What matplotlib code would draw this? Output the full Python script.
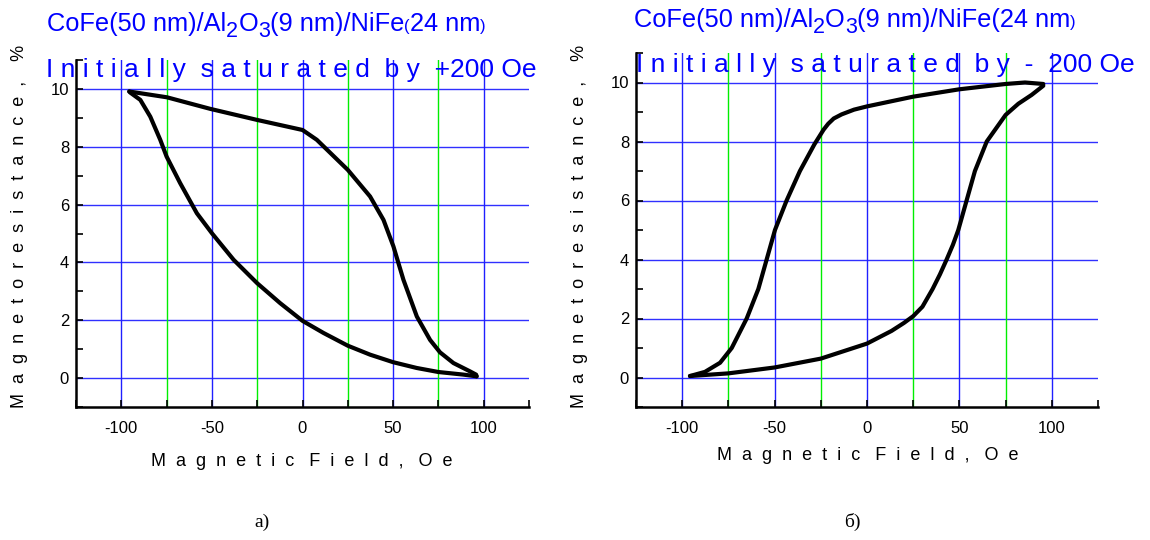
import matplotlib
matplotlib.use("Agg")
import matplotlib.pyplot as plt
import numpy as np

plt.rcParams['font.family'] = ['Liberation Sans', 'DejaVu Sans']

# panel a) : initially saturated by +200 Oe
a_up_x = [-95.6, -74.8, -50.9, -25.2, 0.0, 7.9, 25.0, 37.3, 44.7, 50.2, 55.7, 63.1, 70.4, 75.9, 83.3, 92.5, 95.8, 96.1]
a_up_y = [9.91, 9.71, 9.31, 8.93, 8.58, 8.24, 7.2, 6.28, 5.47, 4.55, 3.40, 2.13, 1.32, 0.89, 0.52, 0.23, 0.12, 0.06]
a_lo_x = [-95.6, -95.0, -89.5, -84.0, -78.5, -75.0, -67.5, -58.3, -50.0, -38.0, -25.0, -12.3, 0.0, 11.6, 25.0, 37.3, 50.0, 63.0, 75.0, 88.8, 96.1]
a_lo_y = [9.91, 9.87, 9.62, 9.04, 8.24, 7.66, 6.74, 5.70, 5.01, 4.09, 3.28, 2.59, 1.98, 1.56, 1.12, 0.81, 0.55, 0.35, 0.21, 0.12, 0.06]

# panel б) : initially saturated by -200 Oe
b_dn_x = [95.4, 85.5, 75.0, 50.0, 25.0, 0.0, -7.0, -13.7, -18.0, -21.0, -23.5, -26.0, -28.5, -36.3, -43.5, -49.8, -54.3, -58.8, -65.1, -73.2, -79.5, -87.7, -95.8]
b_dn_y = [9.95, 10.0, 9.95, 9.77, 9.52, 9.19, 9.08, 8.92, 8.78, 8.6, 8.4, 8.15, 7.9, 7.0, 6.0, 5.0, 4.0, 3.0, 2.0, 1.0, 0.5, 0.19, 0.05]
b_up_x = [-95.8, -75.0, -50.0, -25.0, 0.0, 13.3, 20.0, 25.0, 30.0, 35.5, 39.5, 43.1, 46.5, 49.4, 53.9, 58.4, 64.8, 75.0, 81.9, 89.1, 95.4]
b_up_y = [0.05, 0.14, 0.34, 0.64, 1.15, 1.58, 1.85, 2.08, 2.4, 3.0, 3.5, 4.0, 4.5, 5.0, 6.0, 7.0, 8.0, 8.9, 9.28, 9.58, 9.89]

x_ticks = list(range(-125, 126, 25))
x_labels = ['' if (t % 50 or abs(t) > 100) else str(t) for t in x_ticks]
y_ticks = list(range(-1, 12))
y_labels = [str(t) if (t % 2 == 0 and 0 <= t <= 10) else '' for t in y_ticks]
blue_x = [-100, -50, 0, 50, 100]
green_x = [-75, -25, 25, 75]
h_lines = [0, 2, 4, 6, 8, 10]

title2_a = "I n i t i a l l y  s a t u r a t e d  b y  +200 Oe"
title2_b = "I n i t i a l l y  s a t u r a t e d  b y  -  200 Oe"
ylab = "M  a  g  n  e  t  o  r  e  s  i  s  t  a  n  c  e  ,    %"
xlab = "M  a  g  n  e  t  i  c   F  i  e  l  d  ,   O  e"

W, H = 1150, 540
fig = plt.figure(figsize=(11.5, 5.4), dpi=100)
blue = '#0000ff'


def px(x, y):
    return x / W, 1 - y / H


def panel(rect, xs, ys):
    ax = fig.add_axes(rect)
    for v in h_lines:
        ax.axhline(v, color='#3030ff', lw=1, zorder=1)
    for v in blue_x:
        ax.axvline(v, color='#2020ff', lw=1, zorder=1)
    for v in green_x:
        ax.axvline(v, color='#00ee00', lw=1, zorder=1)
    for x, y in zip(xs, ys):
        ax.plot(x, y, color='black', lw=3, solid_joinstyle='round', solid_capstyle='round', zorder=3)
    ax.set_xlim(-125, 125)
    ax.set_ylim(-1, 11)
    ax.set_xticks(x_ticks)
    ax.set_xticklabels(x_labels)
    ax.set_yticks(y_ticks)
    ax.set_yticklabels(y_labels)
    ax.tick_params(direction='in', length=5, width=1.2, labelsize=12)
    ax.tick_params(axis='x', pad=10)
    ax.tick_params(axis='y', pad=5)
    for s in ['top', 'right']:
        ax.spines[s].set_visible(False)
    for s in ['left', 'bottom']:
        ax.spines[s].set_linewidth(1.8)
    return ax


def segments(x0, y0, parts):
    # parts: (text, fontsize, drop in px)
    r = fig.canvas.get_renderer()
    x = x0
    for s, size, dy in parts:
        t = fig.text(x / W, 1 - (y0 + dy) / H, s, color=blue, fontsize=size, va='baseline', ha='left')
        x = t.get_window_extent(renderer=r).x1


ax1 = panel([76 / W, 1 - 407 / H, 453 / W, 347 / H], [a_up_x, a_lo_x], [a_up_y, a_lo_y])
ax2 = panel([636 / W, 1 - 407 / H, 462 / W, 354 / H], [b_dn_x, b_up_x], [b_dn_y, b_up_y])

fs1, fsub = 18.3, 15.5
segments(47, 31, [("CoFe(50 nm)/Al", fs1, 0), ("2", fsub, 6), ("O", fs1, 0), ("3", fsub, 6),
                  ("(9 nm)/NiFe", fs1, 0), ("(", 12, 0), ("24 nm", fs1, 0), (")", 12, 0)])
segments(634, 27, [("CoFe(50 nm)/Al", fs1, 0), ("2", fsub, 6), ("O", fs1, 0), ("3", fsub, 6),
                   ("(9 nm)/NiFe(24 nm", fs1, 0), (")", 12, 0)])
fig.text(*px(46, 77), title2_a, color=blue, fontsize=19, va='baseline', ha='left')
fig.text(*px(636, 72), title2_b, color=blue, fontsize=19, va='baseline', ha='left')

fig.text(*px(20, 226), ylab, rotation=90, fontsize=13, ha='center', va='center')
fig.text(*px(580, 226), ylab, rotation=90, fontsize=13, ha='center', va='center')
fig.text(*px(302, 461), xlab, fontsize=13, ha='center', va='center')
fig.text(*px(868, 456), xlab, fontsize=13, ha='center', va='center')

fig.text(*px(262, 522), "a)", fontsize=14, family='Liberation Serif', ha='center', va='center')
fig.text(*px(852, 522), "б)", fontsize=14, family='Liberation Serif', ha='center', va='center')

fig.savefig("out.png", dpi=100)
